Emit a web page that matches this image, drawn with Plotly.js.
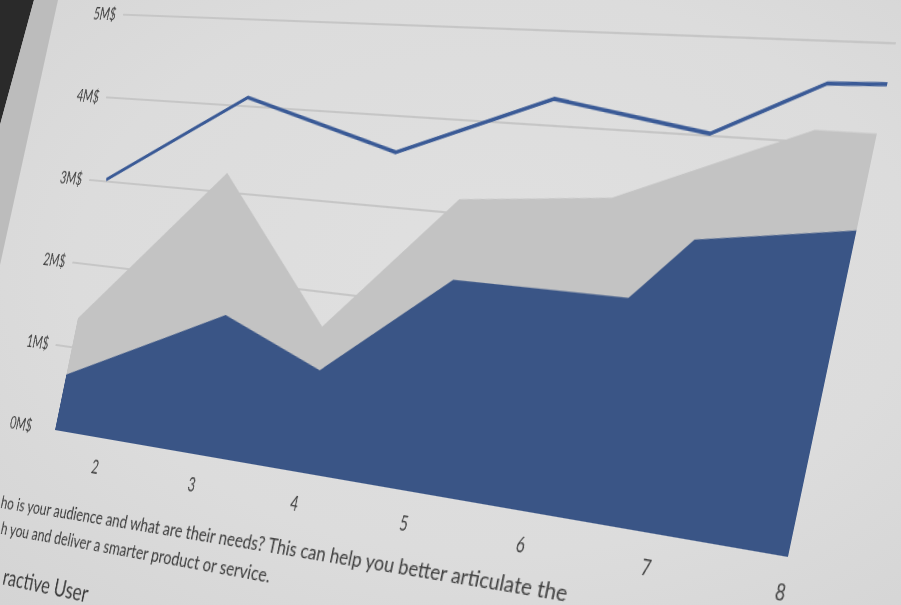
<!DOCTYPE html>
<html><head><meta charset="utf-8">
<script src="https://cdn.plot.ly/plotly-3.0.1.min.js"></script>
<style>
html,body{margin:0;padding:0;width:901px;height:605px;overflow:hidden;background:#dcdcdc;}
#stage{position:absolute;left:0;top:0;width:901px;height:605px;overflow:hidden;
  background:radial-gradient(ellipse at 55% 45%, #e0e0e0 0%, #dcdcdc 60%, #d4d4d4 100%);}
#chart{position:absolute;left:0;top:0;width:1170px;height:690px;transform-origin:0 0;filter:blur(0.4px);}
#txt{position:absolute;left:0;top:0;width:10px;height:10px;transform-origin:0 0;filter:blur(0.35px);}
#txt div{position:absolute;white-space:nowrap;font-family:Lato,"Open Sans",sans-serif;color:#3c3c3c;}
#bezel{position:absolute;left:0;top:0;pointer-events:none;}
</style></head><body>
<div id="stage">
  <div id="chart"></div>
  <div id="txt"></div>
  <svg id="bezel" width="901" height="605">
    <polygon points="0,0 34,0 0,125" fill="#2a2a2a"/>
    <polygon points="34,0 58,0 0,265 0,125" fill="#bcbcbc"/>
  </svg>
</div>
<script>
// ---- data ----
const yTickVals = [0, 1, 2, 3, 4, 5];
const yTickText = ['0M$', '1M$', '2M$', '3M$', '4M$', '5M$'];
const xTickVals = [2, 3, 4, 5, 6, 7, 8];
const xTickText = ['2', '3', '4', '5', '6', '7', '8'];
const totalX = [1.5, 2.72, 3.92, 4.90, 6.15, 7.56, 8.0];
const totalY = [1.35, 3.22, 1.62, 3.15, 3.30, 4.12, 4.12];
const blueX = [1.5, 2.99, 3.98, 4.99, 6.44, 6.85, 8.0];
const blueY = [0.67, 1.61, 1.14, 2.29, 2.30, 2.95, 3.18];
const lineX = [1.5, 2.77, 4.26, 5.52, 6.80, 7.58, 8.0];
const lineY = [3.02, 4.10, 3.60, 4.28, 4.02, 4.58, 4.60];
const bodyLines = [
  'ho is your audience and what are their needs? This can help you better articulate the',
  'h you and deliver a smarter product or service.',
  'ractive User'
];

// ---- layout geometry (flat chart plane) ----
const W = 1170, H = 690;
const M = {l: 90, r: 40, t: 30, b: 233};
const PW = W - M.l - M.r, PH = H - M.t - M.b;
const xr = [1.32, 8.0], yr = [0, 5.02];
function d2px(x){ return M.l + (x - xr[0]) / (xr[1] - xr[0]) * PW; }
function d2py(y){ return M.t + (yr[1] - y) / (yr[1] - yr[0]) * PH; }

// ---- perspective of the photographed screen ----
function sq2q(p){
  const [x0,y0]=p[0],[x1,y1]=p[1],[x2,y2]=p[2],[x3,y3]=p[3];
  const sx=x0-x1+x2-x3, sy=y0-y1+y2-y3;
  const dx1=x1-x2, dx2=x3-x2, dy1=y1-y2, dy2=y3-y2;
  const den=dx1*dy2-dx2*dy1;
  const g=(sx*dy2-dx2*sy)/den, h=(dx1*sy-sx*dy1)/den;
  return [[x1-x0+g*x1, x3-x0+h*x3, x0],[y1-y0+g*y1, y3-y0+h*y3, y0],[g,h,1]];
}
function inv3(m){
  const [a,b,c]=m[0],[d,e,f]=m[1],[g,h,i]=m[2];
  const A=e*i-f*h, B=-(d*i-f*g), C=d*h-e*g;
  const det=a*A+b*B+c*C;
  return [[A/det, -(b*i-c*h)/det, (b*f-c*e)/det],
          [B/det, (a*i-c*g)/det, -(a*f-c*d)/det],
          [C/det, -(a*h-b*g)/det, (a*e-b*d)/det]];
}
function mul3(p,q){
  const r=[[0,0,0],[0,0,0],[0,0,0]];
  for(let i=0;i<3;i++)for(let j=0;j<3;j++)for(let k=0;k<3;k++)r[i][j]+=p[i][k]*q[k][j];
  return r;
}
function apply(m, x, y){
  const w = m[2][0]*x + m[2][1]*y + m[2][2];
  return [(m[0][0]*x + m[0][1]*y + m[0][2])/w, (m[1][0]*x + m[1][1]*y + m[1][2])/w];
}
function css3d(m){
  return 'matrix3d(' + [m[0][0],m[1][0],0,m[2][0], m[0][1],m[1][1],0,m[2][1], 0,0,1,0, m[0][2],m[1][2],0,m[2][2]].join(',') + ')';
}
const src = [[d2px(1.5),d2py(0)],[d2px(8),d2py(0)],[d2px(8),d2py(5)],[d2px(1.5),d2py(5)]];
const dst = [[55,430],[788,557],[896,43],[140,15]];
const Hm = mul3(sq2q(dst), inv3(sq2q(src)));
const Hi = inv3(Hm);
const el = document.getElementById('chart');
el.style.transform = css3d(Hm);

// ---- page text under the chart, on the same screen plane ----
const txt = document.getElementById('txt');
const specs = [
  {t: bodyLines[0], size: 18, X: 1, Y: 503},
  {t: bodyLines[1], size: 18, X: 1, Y: 529},
  {t: bodyLines[2], size: 24, X: 3, Y: 578}
];
const divs = specs.map(s => {
  const d = document.createElement('div');
  d.textContent = s.t; d.style.fontSize = s.size + 'px';
  d.style.lineHeight = Math.round(s.size*1.2) + 'px';
  txt.appendChild(d); return d;
});
const w1 = divs[0].getBoundingClientRect().width;
const cPers = -0.13;
const Pm = [[1 + cPers, 0, 0], [0, 1, 0], [cPers / w1, 0, 1]];
const pA = apply(Hi, 1, 503), pB = apply(Hi, 567, 595);
const ax = (pB[0]-pA[0])/w1, ay = (pB[1]-pA[1])/w1, sv = 1.0;
const Aff = [[ax, 0, pA[0]], [ay, sv, pA[1]], [0, 0, 1]];
const Tm = mul3(Hm, mul3(Aff, Pm));
const Ti = inv3(Tm);
specs.forEach((s, i) => {
  const P = apply(Ti, s.X, s.Y);
  divs[i].style.left = P[0] + 'px';
  divs[i].style.top = (P[1] - Math.round(s.size*1.2)/2 - 0.134*s.size) + 'px';
});
txt.style.transform = css3d(Tm);

const tickFont = {family: 'Lato, "Open Sans", sans-serif', size: 19, color: '#424242'};
const traces = [
  {x: totalX, y: totalY, type:'scatter', mode:'lines', fill:'tozeroy',
   fillcolor:'#c3c3c3', line:{width:0, color:'#c3c3c3'}, hoverinfo:'skip', showlegend:false},
  {x: blueX, y: blueY, type:'scatter', mode:'lines', fill:'tozeroy',
   fillcolor:'#3a5586', line:{width:0, color:'#3a5586'}, hoverinfo:'skip', showlegend:false},
  {x: lineX, y: lineY, type:'scatter', mode:'lines',
   line:{width:3.6, color:'#3a5a96'}, hoverinfo:'skip', showlegend:false}
];

const layout = {
  width: W, height: H, margin: M,
  paper_bgcolor: 'rgba(0,0,0,0)', plot_bgcolor: 'rgba(0,0,0,0)',
  showlegend: false,
  xaxis: {range: xr, tickmode:'array', tickvals: xTickVals, ticktext: xTickText,
    showgrid:false, zeroline:false, showline:false, ticks:'', ticklabelstandoff: 16,
    tickfont: tickFont},
  yaxis: {range: yr, tickmode:'array', tickvals: yTickVals, ticktext: yTickText,
    showgrid:true, gridcolor:'#c6c6c6', gridwidth:1.6, zeroline:false, showline:false,
    ticks:'', ticklabelstandoff: 11, tickfont: {family: tickFont.family, size: 18, color: '#424242'}}
};
Plotly.newPlot(el, traces, layout, {staticPlot:true, displayModeBar:false});
</script>
</body></html>
